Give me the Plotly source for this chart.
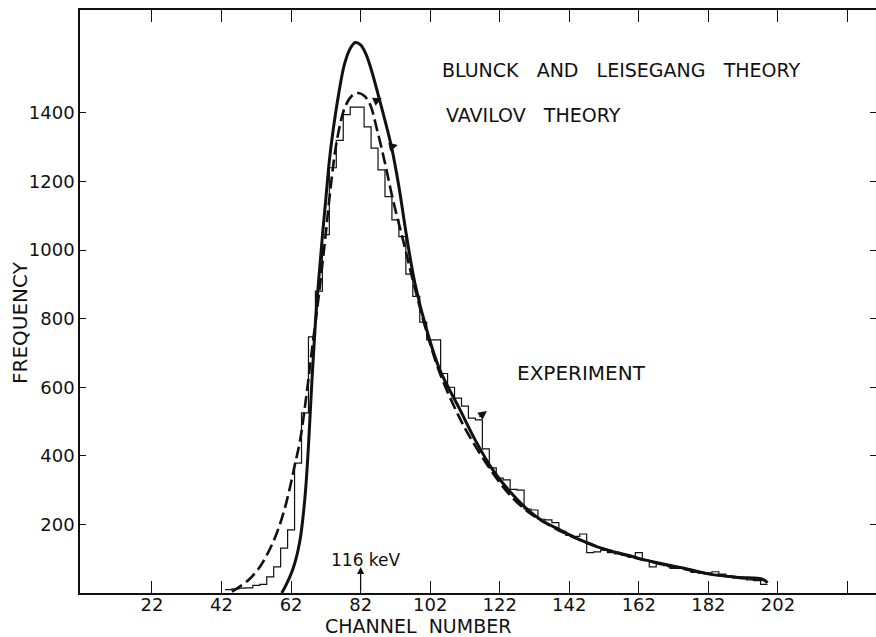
import plotly.graph_objects as go

# ---------------- data ----------------
bin_centers = list(range(44, 200, 2))
hist_counts = [10, 12, 14, 15, 22, 25, 47, 76, 131, 184,
               379, 525, 747, 880, 1045, 1240, 1320, 1395, 1417, 1417,
               1359, 1297, 1234, 1156, 1088, 1039, 930, 865, 790, 738,
               738, 640, 600, 568, 545, 510, 505, 420, 365, 335,
               330, 302, 300, 245, 242, 215, 213, 205, 180, 168,
               165, 172, 118, 120, 125, 118, 114, 110, 104, 118,
               95, 76, 86, 80, 72, 72, 70, 60, 58, 58,
               62, 55, 50, 44, 42, 38, 36, 25]

vavilov_ch = [59.3, 60.5, 62.6, 64.5, 66.0, 67.0, 68.0, 69.0, 70.0, 71.0, 72.0, 73.0,
              74.1, 75.6, 77.3, 79.0, 80.5, 82.0, 83.5, 85.0, 87.0, 89.0, 91.0,
              93.0, 95.3, 97.6, 101.0, 104.8, 110.6, 115.0, 120.0, 125.0, 129.8,
              134.0, 139.3, 144.0, 148.8, 153.0, 158.6, 163.0, 168.0, 175.0,
              182.4, 190.0, 197.7, 199.0]
vavilov_f = [0, 22, 72, 150, 280, 430, 620, 790, 920, 1040, 1150, 1260,
             1350, 1450, 1540, 1588, 1605, 1598, 1572, 1528, 1455, 1378, 1295,
             1185, 1035, 904, 767, 650, 534, 445, 359, 295, 245,
             212, 184, 160, 140, 125, 111, 98, 87, 72,
             55, 46, 40, 30]

blunck_ch = [45.0, 46.7, 50.0, 53.0, 55.5, 57.9, 60.0, 61.7, 63.0, 64.6, 66.6, 68.0,
             70.0, 72.0, 73.2, 75.2, 77.5, 79.5, 81.2, 83.0, 84.7, 86.7, 89.0,
             91.3, 94.2, 97.0, 101.0, 105.0, 110.0, 113.4, 120.0, 125.0, 130.0,
             135.0, 140.0, 145.0, 150.0, 155.0, 160.0, 165.0, 170.0, 175.0,
             180.0, 185.0, 190.0, 195.0, 198.0]
blunck_f = [4, 15, 40, 76, 120, 175, 240, 309, 370, 446, 592, 709,
            870, 1050, 1167, 1321, 1417, 1450, 1458, 1450, 1425, 1352, 1254,
            1146, 1029, 913, 760, 635, 520, 455, 350, 285, 238,
            205, 178, 155, 135, 120, 105, 93, 80, 70,
            60, 52, 46, 41, 38]

x_tick_vals = [22, 42, 62, 82, 102, 122, 142, 162, 182, 202, 222]
x_tick_text = ["22", "42", "62", "82", "102", "122", "142", "162", "182", "202", ""]
y_tick_vals = [200, 400, 600, 800, 1000, 1200, 1400]
y_tick_text = ["200", "400", "600", "800", "1000", "1200", "1400"]

marker_channel = 82

# ---------------- figure ----------------
FONT = "DejaVu Sans"
INK = "#111111"

# histogram as step line built from bin edges
edges = [c - 1 for c in bin_centers] + [bin_centers[-1] + 1]
step_y = hist_counts + [hist_counts[-1]]

fig = go.Figure()
fig.add_trace(go.Scatter(x=edges, y=step_y, mode="lines", line_shape="hv",
                         line=dict(color=INK, width=1.2), name="Experiment",
                         showlegend=False, hoverinfo="skip"))
fig.add_trace(go.Scatter(x=blunck_ch, y=blunck_f, mode="lines", line_shape="spline",
                         line=dict(color=INK, width=2.6, dash="12px,5px"),
                         name="Blunck and Leisegang theory", showlegend=False))
fig.add_trace(go.Scatter(x=vavilov_ch, y=vavilov_f, mode="lines", line_shape="spline",
                         line=dict(color=INK, width=3.0),
                         name="Vavilov theory", showlegend=False))
# helper trace for the right-hand tick axis
fig.add_trace(go.Scatter(x=[None], y=[None], yaxis="y2", showlegend=False,
                         hoverinfo="skip"))

NB = "\u00a0"
annos = [
    dict(x=104.8, y=1525, text=f"BLUNCK{NB*2} AND{NB*2} LEISEGANG{NB*2} THEORY",
         xanchor="left", yanchor="middle", size=19),
    dict(x=105.9, y=1394, text=f"VAVILOV{NB*2} THEORY",
         xanchor="left", yanchor="middle", size=19),
    dict(x=126.4, y=641, text="EXPERIMENT",
         xanchor="left", yanchor="middle", size=20),
    dict(x=83.6, y=96, text="116 keV",
         xanchor="center", yanchor="middle", size=17),
]
for a in annos:
    fig.add_annotation(x=a["x"], y=a["y"], xref="x", yref="y", text=a["text"],
                       showarrow=False, xanchor=a["xanchor"], yanchor=a["yanchor"],
                       font=dict(family=FONT, size=a["size"], color=INK))

# small pointer arrows
pointers = [(88.1, 1443, -9, 4), (92.7, 1306, -9, 2), (118.3, 531, -9, 7)]
for px_, py_, ax_, ay_ in pointers:
    fig.add_annotation(x=px_, y=py_, xref="x", yref="y", text="", showarrow=True,
                       ax=ax_, ay=ay_, arrowhead=2, arrowsize=1.1, arrowwidth=1.6,
                       arrowcolor=INK)

# 116 keV arrow
fig.add_annotation(x=marker_channel, y=76, xref="x", yref="y", text="",
                   showarrow=True, ax=0, ay=25, arrowhead=2, arrowsize=1.1,
                   arrowwidth=1.3, arrowcolor=INK)

# axis titles
fig.add_annotation(x=-0.0754, y=0.4648, xref="paper", yref="paper",
                   text="FREQUENCY", textangle=-90, showarrow=False,
                   xanchor="center", yanchor="middle",
                   font=dict(family=FONT, size=20, color=INK))
fig.add_annotation(x=0.424, y=-0.057, xref="paper", yref="paper",
                   text=f"CHANNEL{NB} NUMBER", showarrow=False,
                   xanchor="center", yanchor="middle",
                   font=dict(family=FONT, size=19, color=INK))

fig.update_layout(
    width=876, height=637,
    margin=dict(l=80, r=0, t=10, b=44),
    paper_bgcolor="white", plot_bgcolor="white",
    font=dict(family=FONT, size=18, color=INK),
    xaxis=dict(range=[1.3, 230.2], tickvals=x_tick_vals, ticktext=x_tick_text,
               ticks="inside", ticklen=12, tickwidth=1.2, tickcolor=INK,
               showline=True, linecolor=INK, linewidth=1.6, mirror="ticks",
               showgrid=False, zeroline=False, ticklabelstandoff=-5,
               tickfont=dict(family=FONT, size=18, color=INK)),
    yaxis=dict(range=[0, 1700], tickvals=y_tick_vals, ticktext=y_tick_text,
               ticks="inside", ticklen=6, tickwidth=1.2, tickcolor=INK,
               showline=True, linecolor=INK, linewidth=1.6, mirror=False,
               showgrid=False, zeroline=False,
               tickfont=dict(family=FONT, size=18, color=INK)),
    yaxis2=dict(range=[0, 1700], overlaying="y", side="right",
                tickvals=y_tick_vals, ticks="inside", ticklen=6, tickwidth=1.2,
                tickcolor=INK, showticklabels=False, showline=False,
                showgrid=False, zeroline=False),
    showlegend=False,
)

fig.write_html("out.html")
